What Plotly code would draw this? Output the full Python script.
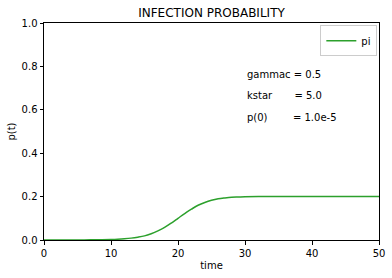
import plotly.graph_objects as go

time = [0, 2, 4, 6, 8, 10, 11, 12, 13, 14, 15, 16, 17, 18, 19, 20, 21, 22, 23, 24,
        25, 26, 27, 28, 29, 30, 32, 35, 40, 45, 50]
pi = [0.0000, 0.0001, 0.0002, 0.0005, 0.0010, 0.0025, 0.0038, 0.0057, 0.0086, 0.013,
      0.019, 0.029, 0.042, 0.058, 0.078, 0.100, 0.122, 0.142, 0.160, 0.173,
      0.183, 0.190, 0.194, 0.197, 0.198, 0.199, 0.200, 0.200, 0.200, 0.200, 0.200]
params = ["gammac = 0.5", "kstar       = 5.0", "p(0)        = 1.0e-5"]
param_y = [0.765, 0.665, 0.565]

fig = go.Figure()
fig.add_trace(go.Scatter(x=time, y=pi, mode="lines", name="pi",
                         line=dict(color="#2ca02c", width=1.5, shape="spline")))
for txt, yy in zip(params, param_y):
    fig.add_annotation(x=30, y=yy, text=txt, showarrow=False, xanchor="left",
                       yanchor="middle", font=dict(size=10, color="black"))

axis_common = dict(showgrid=False, zeroline=False, showline=True, linecolor="black",
                   linewidth=1, mirror=True, ticks="outside", ticklen=3.5,
                   tickcolor="black", tickfont=dict(size=10, color="black"),
                   automargin=False)
fig.update_layout(
    width=392, height=278,
    margin=dict(l=44, r=13, t=23, b=38),
    plot_bgcolor="white", paper_bgcolor="white",
    font=dict(family="DejaVu Sans", size=10, color="black"),
    title=dict(text="INFECTION PROBABILITY", x=0.5, xref="paper", xanchor="center",
               y=0.953, yanchor="middle", font=dict(size=12)),
    xaxis=dict(range=[0, 50], dtick=10,
               title=dict(text="time", standoff=4, font=dict(size=10)), **axis_common),
    yaxis=dict(range=[0, 1], dtick=0.2, tickformat=".1f",
               title=dict(text="p(t)", standoff=4, font=dict(size=10)), **axis_common),
    legend=dict(x=0.995, y=0.99, xanchor="right", yanchor="top",
                bordercolor="#cccccc", borderwidth=1, bgcolor="white",
                font=dict(size=10), itemwidth=30),
    showlegend=True,
)
fig.write_html("out.html", post_script="document.body.style.margin='0';",
               config={"displayModeBar": False})
